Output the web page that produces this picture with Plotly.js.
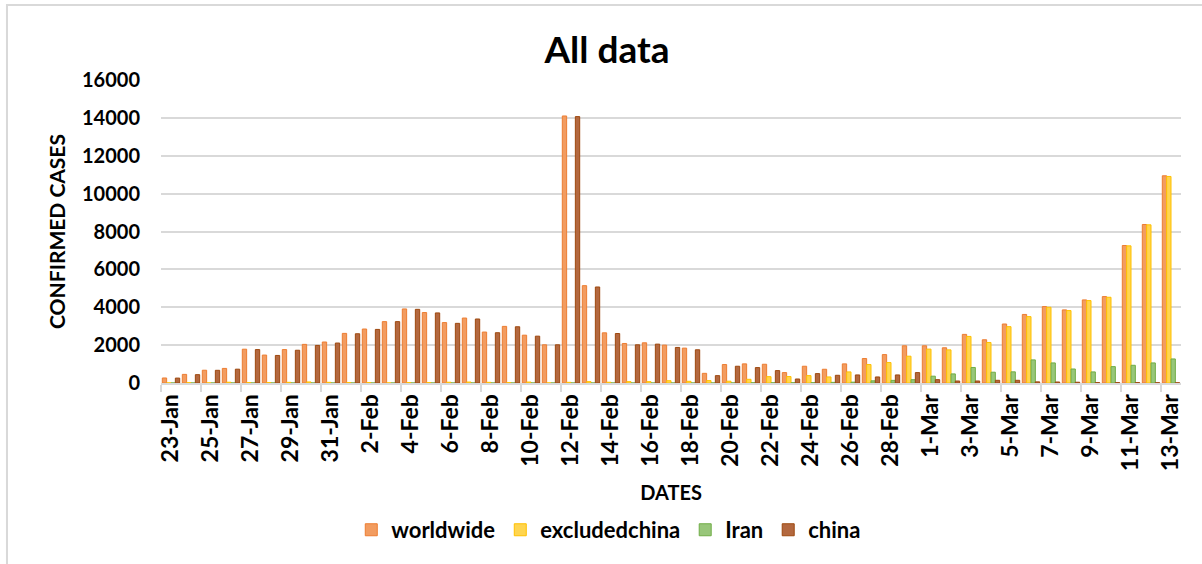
<!DOCTYPE html>
<html>
<head>
<meta charset="utf-8">
<script src="https://cdn.plot.ly/plotly-3.0.1.min.js"></script>
<style>html,body{margin:0;padding:0;background:#fff;}#chart{width:1202px;height:564px;}</style>
</head>
<body>
<div id="chart"></div>
<script>
const dates = ["23-Jan","24-Jan","25-Jan","26-Jan","27-Jan","28-Jan","29-Jan","30-Jan","31-Jan",
"1-Feb","2-Feb","3-Feb","4-Feb","5-Feb","6-Feb","7-Feb","8-Feb","9-Feb","10-Feb","11-Feb","12-Feb","13-Feb","14-Feb","15-Feb","16-Feb","17-Feb","18-Feb","19-Feb","20-Feb","21-Feb","22-Feb","23-Feb","24-Feb","25-Feb","26-Feb","27-Feb","28-Feb","29-Feb",
"1-Mar","2-Mar","3-Mar","4-Mar","5-Mar","6-Mar","7-Mar","8-Mar","9-Mar","10-Mar","11-Mar","12-Mar","13-Mar"];

const worldwide = [265,455,675,770,1785,1475,1765,2040,2165,
2620,2850,3240,3910,3720,3190,3430,2690,2990,2525,2017,14100,5140,2650,2087,2122,2000,1842,510,975,1010,990,550,885,726,1009,1292,1500,1965,
1965,1860,2567,2283,3115,3620,4035,3860,4387,4563,7259,8370,10942];

const excludedchina = [5,15,5,40,20,20,35,55,35,
20,20,5,20,20,40,50,35,20,50,5,35,70,40,70,70,120,90,125,95,195,335,340,390,320,585,975,1080,1415,
1790,1750,2460,2140,2975,3505,4000,3824,4352,4528,7242,8352,10907];

const iran = [0,0,0,0,0,0,0,0,0,
0,0,0,0,0,0,0,0,0,0,0,0,0,0,0,0,0,0,2,3,13,10,15,18,34,44,115,140,175,
360,480,820,570,590,1220,1060,740,585,865,935,1060,1270];

const china = [260,440,670,730,1765,1455,1730,1985,2110,
2600,2830,3240,3890,3700,3150,3380,2655,2970,2473,2017,14067,5070,2613,2017,2052,1877,1754,388,885,814,655,212,496,407,425,319,425,549,
177,106,106,142,142,60,53,40,20,20,20,15,10];

const yTicks = [0,2000,4000,6000,8000,10000,12000,14000,16000];

const FONT = "Lato, 'Open Sans', sans-serif";

function series(name, vals, fill, line) {
  return {type:'bar', name:name, x:dates, y:vals,
    marker:{color:fill, line:{color:line, width:1}}};
}

const data = [
  series('worldwide', worldwide, '#f29c60', '#ed7d31'),
  series('excludedchina', excludedchina, '#ffd54f', '#ffc000'),
  series('Iran', iran, '#98c67a', '#70ad47'),
  series('china', china, '#b3683f', '#9e480e')
];

const layout = {
  width:1202, height:564,
  paper_bgcolor:'#ffffff', plot_bgcolor:'#ffffff',
  margin:{l:161, r:21, t:80, b:181},
  barmode:'group', bargap:0.13, bargroupgap:0,
  font:{family:FONT, color:'#000', size:20, weight:700},
  title:{text:'All data', font:{family:FONT, size:37, weight:700, color:'#000'},
    x:0.505, xref:'container', xanchor:'center', y:0.911, yref:'container', yanchor:'middle'},
  xaxis:{type:'category', tickmode:'linear', tick0:0, dtick:2, tickangle:-90,
    tickson:'boundaries', ticks:'outside', ticklen:7, tickcolor:'#d9d9d9', tickwidth:2,
    showline:true, linecolor:'#d9d9d9', linewidth:2, showgrid:false,
    tickfont:{family:FONT, size:23, weight:700, color:'#000'},
    title:{text:'DATES', font:{family:FONT, size:20, weight:700, color:'#000'}, standoff:16}},
  yaxis:{range:[0,16000], tickvals:yTicks, ticktext:yTicks.map(String), showgrid:true, gridcolor:'#d9d9d9', gridwidth:2,
    zeroline:false, showline:false, ticks:'', ticklabelstandoff:20,
    tickfont:{family:FONT, size:20, weight:700, color:'#000'},
    title:{text:'CONFIRMED CASES', font:{family:FONT, size:21, weight:700, color:'#000'}, standoff:10}},
  legend:{orientation:'h', x:0.439, xanchor:'center', y:-0.485, yanchor:'middle',
    font:{family:FONT, size:22, weight:700, color:'#000'}, itemwidth:30, traceorder:'normal'},
  shapes:[{type:'rect', xref:'paper', yref:'paper', x0:-0.151, x1:1.05, y0:-0.7, y1:1.2475,
    line:{color:'#d9d9d9', width:2}, fillcolor:'rgba(0,0,0,0)', layer:'below'}]
};

Plotly.newPlot('chart', data, layout, {displayModeBar:false, staticPlot:true});
</script>
</body>
</html>
